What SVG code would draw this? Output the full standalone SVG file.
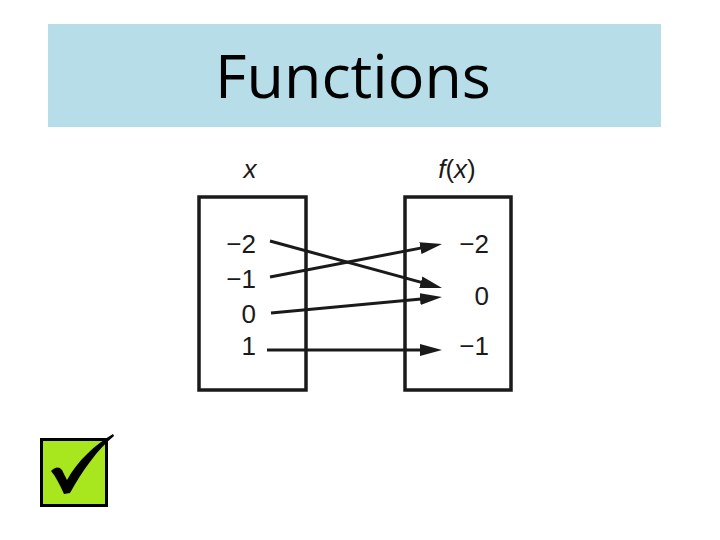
<svg xmlns="http://www.w3.org/2000/svg" width="720" height="540" viewBox="0 0 720 540">
<style>
.lbl{font-family:"Liberation Sans",Arial,sans-serif;font-size:26px;fill:#1a1a1a}
.it{font-style:italic}
.box{fill:#fff;stroke:#1a1a1a;stroke-width:3.5}
.conn{stroke:#1a1a1a;stroke-width:3;fill:none;marker-end:url(#ah)}
</style>
<defs>
<marker id="ah" markerUnits="userSpaceOnUse" markerWidth="22" markerHeight="12" refX="12" refY="6" orient="auto">
<path d="M0,0 L22,6 L0,12 Z" fill="#1a1a1a"/>
</marker>
</defs>
<rect x="0" y="0" width="720" height="540" fill="#fff"/>
<g id="title">
<rect x="48" y="24" width="613" height="103" fill="#b7dde8"/>
<text x="353" y="98" text-anchor="middle" style="font-family:'Open Sans','Liberation Sans',sans-serif;font-size:61px;fill:#000">Functions</text>
</g>
<g id="domain">
<text class="lbl it" x="250" y="178" text-anchor="middle">x</text>
<rect class="box" x="199" y="197" width="107" height="193"/>
<text class="lbl" x="256" y="253" text-anchor="end">−2</text>
<text class="lbl" x="256" y="288" text-anchor="end">−1</text>
<text class="lbl" x="256" y="323" text-anchor="end">0</text>
<text class="lbl" x="256" y="355" text-anchor="end">1</text>
</g>
<g id="range">
<text class="lbl" x="457" y="178" text-anchor="middle"><tspan class="it">f</tspan>(<tspan class="it">x</tspan>)</text>
<rect class="box" x="405" y="197" width="106" height="193"/>
<text class="lbl" x="489" y="253" text-anchor="end">−2</text>
<text class="lbl" x="489" y="305" text-anchor="end">0</text>
<text class="lbl" x="489" y="355" text-anchor="end">−1</text>
</g>
<g id="connectors">
<line class="conn" x1="270" y1="241" x2="432.4" y2="285.4"/>
<line class="conn" x1="270" y1="277" x2="432.2" y2="245.9"/>
<line class="conn" x1="271" y1="313" x2="432" y2="297.9"/>
<line class="conn" x1="267" y1="350" x2="432" y2="350"/>
</g>
<g id="checkbox">
<rect x="41.5" y="439.5" width="65" height="66" fill="#a8e61d" stroke="#000" stroke-width="3"/>
<path d="M51,471 C55,467 59,466 62,470 L67,480 C78,460 95,445 113,434 L114,436 C97,450 83,470 70,493 L64,494 C60,485 56,477 51,471 Z" fill="#000"/>
</g>
</svg>
